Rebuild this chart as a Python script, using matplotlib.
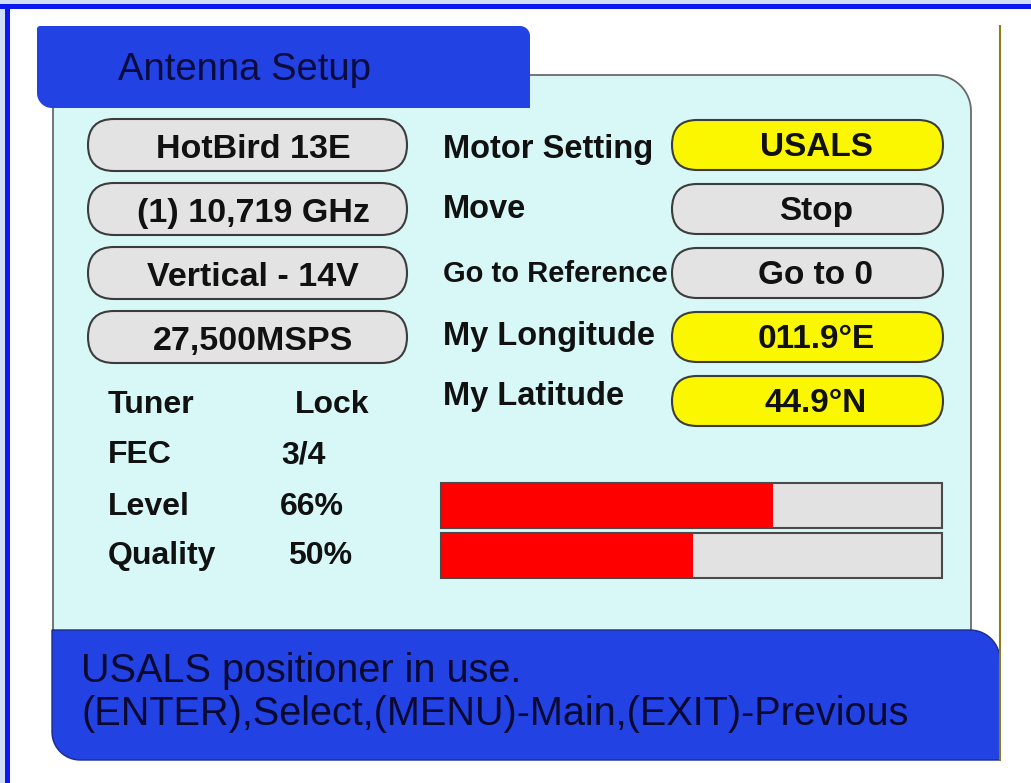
import numpy as np
import matplotlib.pyplot as plt
from matplotlib.patches import FancyBboxPatch, Polygon, Rectangle

plt.rcParams['font.family'] = ['Liberation Sans', 'DejaVu Sans']

# menu content
title = 'Antenna Setup'
sat_fields = ['HotBird 13E', '(1) 10,719 GHz', 'Vertical - 14V', '27,500MSPS']
motor_labels = ['Motor Setting', 'Move', 'Go to Reference', 'My Longitude', 'My Latitude']
motor_values = ['USALS', 'Stop', 'Go to 0', '011.9°E', '44.9°N']
motor_editable = [True, False, False, True, True]
tuner_labels = ['Tuner', 'FEC', 'Level', 'Quality']
signal_pct = [66, 50]   # Level, Quality
tuner_values = ['Lock', '3/4'] + [f'{p}%' for p in signal_pct]
status_lines = ['USALS positioner in use.',
                '(ENTER),Select,(MENU)-Main,(EXIT)-Previous']

BLUE = '#2342e4'
CYAN = '#d8f8f8'
PILL_GRAY = '#e3e3e3'
YELLOW = '#fbf700'
INK = '#111111'


def rounded_box(x0, y0, x1, y1, tl=0, tr=0, br=0, bl=0, n=16):
    # y runs downwards (axis is inverted), so angles go clockwise on screen
    pts = []
    for cx, cy, r, a0 in [(x0 + tl, y0 + tl, tl, 180), (x1 - tr, y0 + tr, tr, 270),
                          (x1 - br, y1 - br, br, 0), (x0 + bl, y1 - bl, bl, 90)]:
        t = np.radians(np.linspace(a0, a0 + 90, n))
        pts += list(zip(cx + r * np.cos(t), cy + r * np.sin(t)))
    return pts


fig = plt.figure(figsize=(10.31, 7.83), dpi=100)
ax = fig.add_axes([0, 0, 1, 1])
ax.set_xlim(0, 1031)
ax.set_ylim(783, 0)
ax.axis('off')

# outer frame
ax.add_patch(Rectangle((0, 0), 1031, 4, color='#cfdff5', lw=0))
ax.add_patch(Rectangle((0, 0), 5, 783, color='#cfdff5', lw=0))
ax.add_patch(Rectangle((0, 4), 1031, 5, color='#0c18f2', lw=0))
ax.add_patch(Rectangle((5, 4), 5, 779, color='#0c18f2', lw=0))

# main panel, status bar and title tab
ax.add_patch(Polygon(rounded_box(53, 75, 971, 632, tr=36), closed=True,
                     fc=CYAN, ec='#6a6a6a', lw=1.3))
ax.add_patch(Polygon(rounded_box(52, 630, 1000, 760, tr=30, bl=28), closed=True,
                     fc=BLUE, ec='#1b2c8c', lw=1))
ax.add_patch(Polygon(rounded_box(37, 26, 530, 108, tl=3, tr=10, bl=15), closed=True,
                     fc=BLUE, ec='none'))
ax.plot([1000, 1000], [26, 760], color='#8c7c1c', lw=1.5)

ax.text(118, 80, title, fontsize=27.5, color='#0b0b3c', va='baseline')

# satellite / transponder fields
row_y = [145 + 64 * i for i in range(5)]
for i, txt in enumerate(sat_fields):
    ax.add_patch(FancyBboxPatch((88, row_y[i] - 26), 319, 52,
                                boxstyle='round,pad=0,rounding_size=26',
                                fc=PILL_GRAY, ec='#3c3c3c', lw=1.5))
    ax.text(253, row_y[i] + 13, txt, fontsize=24.5, fontweight='bold',
            color=INK, ha='center', va='baseline')

# motor settings
label_base = [158, 218, 282, 345, 405]
for i, (lab, val, edit) in enumerate(zip(motor_labels, motor_values, motor_editable)):
    size = 21 if len(lab) > 13 else 23.5
    ax.text(443, label_base[i], lab, fontsize=size, fontweight='bold',
            color=INK, va='baseline')
    ax.add_patch(FancyBboxPatch((672, row_y[i] - 25), 271, 50,
                                boxstyle='round,pad=0,rounding_size=25',
                                fc=YELLOW if edit else PILL_GRAY, ec='#3c3c3c', lw=1.5))
    ax.text(816, row_y[i] + 11, val, fontsize=24, fontweight='bold',
            color=INK, ha='center', va='baseline')

# tuner status
stat_y = [413, 463, 515, 564]
value_x = [295, 281, 280, 288]
for i, (lab, val) in enumerate(zip(tuner_labels, tuner_values)):
    ax.text(108, stat_y[i], lab, fontsize=23, fontweight='bold', color=INK, va='baseline')
    ax.text(value_x[i], stat_y[i], val, fontsize=23, fontweight='bold', color=INK,
            va='baseline')

# level / quality bars
bar_y = [505.5, 555.5]
bar_len = 501
ax.barh(bar_y, [bar_len] * 2, left=441, height=45, color='#e2e2e2',
        edgecolor='#4a4a4a', lw=1.5)
ax.barh(bar_y, [p / 100 * bar_len for p in signal_pct], left=442, height=43,
        color='#ff0000', lw=0)

# status bar text
for i, line in enumerate(status_lines):
    ax.text(81, 682 + 43 * i, line, fontsize=28.5, color='#0a0a30', va='baseline')

fig.savefig('out.png', dpi=100)
